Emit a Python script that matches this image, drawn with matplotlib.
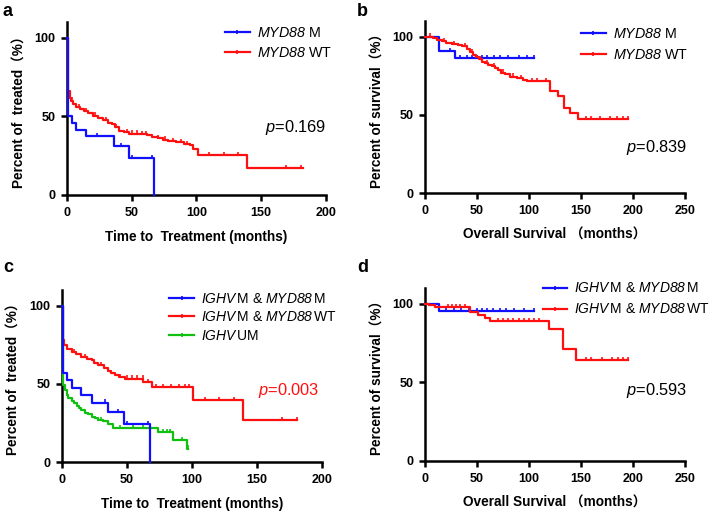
import numpy as np
import matplotlib
matplotlib.use('Agg')
import matplotlib.pyplot as plt
from matplotlib.lines import Line2D

plt.rcParams['font.family'] = ['Liberation Sans', 'Noto Sans CJK SC']
plt.rcParams['mathtext.fontset'] = 'custom'
plt.rcParams['mathtext.it'] = 'Liberation Sans:italic'
plt.rcParams['mathtext.rm'] = 'Liberation Sans:italic'

BLUE, RED, GREEN = '#1010ff', '#ff1010', '#10c010'

# panel a: time to treatment, MYD88
a_m_t = [0, 1, 4, 7, 15, 36, 48, 67]
a_m_s = [100, 50, 45.5, 41.5, 37.5, 31, 23.5, 0]
a_m_end = 67
a_m_cens = [23, 42, 50, 66]
a_wt_t = [0, 0.5, 1, 2, 3, 5, 7, 10, 13, 16, 20, 24, 28, 32, 35, 37, 40, 44, 48,
          55, 62, 66, 70, 74, 78, 84, 90, 95, 97, 101, 139]
a_wt_s = [100, 75, 66, 62, 60, 58, 56, 55, 53.5, 52, 50.5, 49, 47.5, 46, 45, 43, 41,
          40, 39, 38.5, 38, 37, 36, 35.2, 34.5, 33.5, 32.5, 31.5, 29.5, 25.5, 17]
a_wt_end = 182
a_wt_cens = [4, 9, 15, 22, 30, 38, 46, 50, 54, 58, 61, 70, 76, 82, 88, 93,
             110, 121, 132, 169, 181]

# panel b: overall survival, MYD88
b_m_t = [0, 13.5, 29]
b_m_s = [100, 91, 86.5]
b_m_end = 105
b_m_cens = [24, 34, 40, 45, 50, 55, 60, 66, 72, 80, 90, 98, 105]
b_wt_t = [0, 8, 12, 16, 20, 26, 32, 36, 40, 43, 46, 49, 52, 55, 58, 61, 64, 67, 70,
          73, 77, 82, 88, 94, 98, 120, 128, 134, 139, 147]
b_wt_s = [100, 99, 98, 97, 96, 95.5, 95, 94, 92, 90, 88.5, 87, 85.5, 84, 83, 82, 81,
          80, 78.5, 77, 76, 74.5, 73.5, 72.5, 71.5, 65.5, 62, 54.5, 51, 47.5]
b_wt_end = 195
b_wt_cens = [5, 18, 28, 38, 45, 53, 60, 66, 75, 85, 92, 103, 108, 116,
             155, 160, 168, 178, 185, 190, 195]

# panel c: time to treatment, IGHV / MYD88
c_m_t = [0, 1, 3.6, 7.4, 14.6, 22.8, 35.6, 47.5, 67.4]
c_m_s = [100, 57, 52.5, 47.5, 43, 38, 32, 24, 0]
c_m_end = 67.4
c_m_cens = [33, 43, 50, 66]
c_wt_t = [0, 0.5, 1.5, 4, 7.4, 11, 15, 19, 22.8, 25, 27.9, 32, 35.6, 38, 40.7, 44,
          48.5, 62.6, 68.9, 101, 139.5]
c_wt_s = [100, 78, 75, 72.5, 70.5, 69, 67, 66, 65, 63.5, 62, 60, 58.5, 57, 55.5,
          54.5, 53.3, 51, 48, 39.5, 27]
c_wt_end = 181
c_wt_cens = [9, 18, 30, 45, 50, 54, 58, 62, 66, 72, 78, 84, 90, 95, 98,
             110, 121, 132, 169, 181]
c_um_t = [0, 0.5, 1, 2, 3.6, 5, 7.4, 9, 11.3, 13, 15, 18, 20, 23, 25.4, 28, 31.8,
          35.6, 39.5, 74, 85.6, 95.9]
c_um_s = [100, 56, 49, 46, 43, 41, 39, 37.5, 36, 34.5, 33, 31.5, 30.5, 29, 28, 27,
          26, 24.5, 21.5, 19, 14, 8.5]
c_um_end = 97
c_um_cens = [30, 45, 55, 62, 68, 78, 81, 83, 92, 97]

# panel d: overall survival, IGHV M & MYD88
d_m_t = [0, 13.5]
d_m_s = [100, 95.5]
d_m_end = 105
d_m_cens = [20, 28, 35, 42, 50, 55, 60, 65, 72, 78, 86, 95, 105]
d_wt_t = [0, 4, 10, 43, 51, 58, 62.5, 119, 133, 145]
d_wt_s = [100, 99, 98, 94.7, 93, 91, 89, 84, 71.5, 64]
d_wt_end = 195
d_wt_cens = [22, 26, 30, 34, 38, 70, 75, 80, 85, 90, 95, 100, 105, 110,
             155, 160, 170, 180, 186, 190, 195]

lab_ab = [r'$MYD88$ M', r'$MYD88$ WT']
lab_c = [r'$IGHV\,$M & $MYD88\,$M', r'$IGHV\,$M & $MYD88\,$WT', r'$IGHV\,$UM']
lab_d = lab_c[:2]


def km(ax, t, s, end, cens, color, z):
    tt = list(t) + [end]
    ss = list(s) + [s[-1]]
    ax.step(tt, ss, where='post', color=color, lw=1.6, clip_on=False, zorder=z)
    idx = np.searchsorted(t, cens, side='right') - 1
    cy = np.array(s)[idx]
    ax.plot(cens, cy + 0.8, ls='none', marker='|', ms=3.5, mew=1.2,
            color=color, clip_on=False, zorder=z)


def style(ax, xmax, xlabel, ylabel):
    ax.set_xlim(0, xmax)
    ax.set_ylim(0, 110)
    ax.set_xticks(np.arange(0, xmax + 1, 50))
    ax.set_yticks([0, 50, 100])
    for sp in ['top', 'right']:
        ax.spines[sp].set_visible(False)
    for sp in ['left', 'bottom']:
        ax.spines[sp].set_linewidth(1.8)
    ax.tick_params(width=1.8, length=4.3, labelsize=9, pad=4)
    for lab in ax.get_xticklabels() + ax.get_yticklabels():
        lab.set_fontweight('bold')
    ax.set_xlabel(xlabel, fontsize=9.8, fontweight='bold', labelpad=8)
    ax.set_ylabel(ylabel, fontsize=9.8, fontweight='bold', labelpad=6)


def handle(color):
    return Line2D([0], [0], color=color, lw=1.6, marker='|', ms=3.5, mew=1.2)


fig = plt.figure(figsize=(7.1, 5.15), dpi=100)
axa = fig.add_axes([0.0944, 0.6214, 0.3646, 0.3356])
axb = fig.add_axes([0.5986, 0.6252, 0.3662, 0.3338])
axc = fig.add_axes([0.0873, 0.1029, 0.3662, 0.3340])
axd = fig.add_axes([0.5986, 0.1049, 0.3662, 0.3359])

ttt = 'Time to  Treatment (months)'
osl = 'Overall Survival （months）'
leg_kw = dict(loc='upper left', frameon=False,
              handlelength=1.75, handletextpad=0.5)

# a
km(axa, a_wt_t, a_wt_s, a_wt_end, a_wt_cens, RED, 3)
km(axa, a_m_t, a_m_s, a_m_end, a_m_cens, BLUE, 4)
style(axa, 200, ttt, 'Percent of  treated（%）')
axa.text(200, 43, r'$p$=0.169', ha='right', va='center', fontsize=11.8)
axa.legend([handle(BLUE), handle(RED)], lab_ab, fontsize=10.3,
           bbox_to_anchor=(0.56, 1.05), labelspacing=0.4, **leg_kw)

# b
km(axb, b_m_t, b_m_s, b_m_end, b_m_cens, BLUE, 3)
km(axb, b_wt_t, b_wt_s, b_wt_end, b_wt_cens, RED, 4)
style(axb, 250, osl, 'Percent of survival（%）')
axb.text(252, 29, r'$p$=0.839', ha='right', va='center', fontsize=11.8)
axb.legend([handle(BLUE), handle(RED)], lab_ab, fontsize=10.3,
           bbox_to_anchor=(0.55, 1.04), labelspacing=0.5, **leg_kw)

# c
km(axc, c_wt_t, c_wt_s, c_wt_end, c_wt_cens, RED, 3)
km(axc, c_um_t, c_um_s, c_um_end, c_um_cens, GREEN, 4)
km(axc, c_m_t, c_m_s, c_m_end, c_m_cens, BLUE, 5)
style(axc, 200, ttt, 'Percent of  treated（%）')
axc.text(198, 46, r'$p$=0.003', ha='right', va='center', fontsize=11.8, color=RED)
axc.legend([handle(BLUE), handle(RED), handle(GREEN)], lab_c, fontsize=10,
           bbox_to_anchor=(0.365, 1.06), labelspacing=0.3, **leg_kw)

# d
km(axd, d_m_t, d_m_s, d_m_end, d_m_cens, BLUE, 3)
km(axd, d_wt_t, d_wt_s, d_wt_end, d_wt_cens, RED, 4)
style(axd, 250, osl, 'Percent of survival（%）')
axd.text(252, 45, r'$p$=0.593', ha='right', va='center', fontsize=11.8)
axd.legend([handle(BLUE), handle(RED)], lab_d, fontsize=10,
           bbox_to_anchor=(0.404, 1.11), labelspacing=0.5, **leg_kw)

for lab, (x, y) in zip('abcd', [(0.004, 0.995), (0.503, 0.995), (0.004, 0.497), (0.503, 0.497)]):
    fig.text(x, y, lab, fontsize=13, fontweight='bold', va='top')

fig.savefig('out.png', dpi=100)
